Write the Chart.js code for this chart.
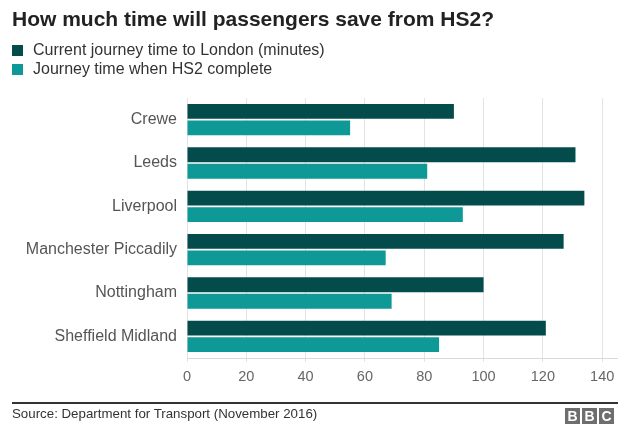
<!DOCTYPE html>
<html>
<head>
<meta charset="utf-8">
<script src="https://cdn.jsdelivr.net/npm/chart.js@4"></script>
<style>
  html, body { margin: 0; padding: 0; background: #fff; }
  body { width: 640px; height: 440px; position: relative; overflow: hidden;
         font-family: "Liberation Sans", Arial, sans-serif; }
  #wrap { position: absolute; left: 0; top: 0; width: 640px; height: 440px; }
  .title { position: absolute; left: 12px; top: 7px; font-size: 21px; font-weight: bold; color: #222; }
  .leg { position: absolute; left: 12px; font-size: 16px; color: #333; line-height: 18px; }
  .leg span { display: inline-block; width: 11px; height: 11px; margin-right: 10px; vertical-align: -1px; }
  .rule { position: absolute; left: 12px; top: 402px; width: 606px; height: 2px; background: #333; }
  .source { position: absolute; left: 12px; top: 406px; font-size: 13.3px; color: #333; }
  .bbc { position: absolute; top: 407px; left: 565px; }
  .bbc b { display: inline-block; width: 15px; height: 16px; margin-right: 2px; background: #6e6e6e;
           color: #fff; font-size: 14px; line-height: 16px; text-align: center; }
</style>
</head>
<body>
<div id="wrap"><canvas id="chart"></canvas></div>
<div class="title">How much time will passengers save from HS2?</div>
<div class="leg" id="leg1" style="top:41px"></div>
<div class="leg" id="leg2" style="top:60px"></div>
<div class="rule"></div>
<div class="source">Source: Department for Transport (November 2016)</div>
<div class="bbc"><b>B</b><b>B</b><b>C</b></div>
<script>
// 数据
const stations = ['Crewe', 'Leeds', 'Liverpool', 'Manchester Piccadily', 'Nottingham', 'Sheffield Midland'];
const currentTime = [90, 131, 134, 127, 100, 121];
const hs2Time = [55, 81, 93, 67, 69, 85];
const seriesNames = ['Current journey time to London (minutes)', 'Journey time when HS2 complete'];
const seriesColors = ['#044c4c', '#0e9996'];
const xTicks = [0, 20, 40, 60, 80, 100, 120, 140];

// 图例
[seriesNames[0], seriesNames[1]].forEach(function(name, i) {
  document.getElementById('leg' + (i + 1)).innerHTML =
    '<span style="background:' + seriesColors[i] + '"></span>' + name;
});

document.addEventListener('DOMContentLoaded', function() {
  const ctx = document.getElementById('chart');
  new Chart(ctx, {
    type: 'bar',
    data: {
      labels: stations,
      datasets: [
        { label: seriesNames[0], data: currentTime, backgroundColor: seriesColors[0],
          categoryPercentage: 0.76, barPercentage: 0.9 },
        { label: seriesNames[1], data: hs2Time, backgroundColor: seriesColors[1],
          categoryPercentage: 0.76, barPercentage: 0.9 }
      ]
    },
    options: {
      indexAxis: 'y',
      responsive: true,
      maintainAspectRatio: false,
      animation: false,
      layout: { padding: { top: 98, right: 23, bottom: 0, left: 0 } },
      plugins: { legend: { display: false }, tooltip: { enabled: false } },
      scales: {
        x: {
          min: 0,
          max: 145,
          afterBuildTicks: function(scale) {
            scale.ticks = xTicks.map(function(v) { return { value: v }; });
          },
          afterFit: function(scale) { scale.height = 82; },
          grid: { color: '#e3e3e3', tickLength: 4 },
          border: { color: '#dadada' },
          ticks: { color: '#666', padding: 6,
                   font: { family: 'Liberation Sans', size: 14.5 } }
        },
        y: {
          afterFit: function(scale) { scale.width = 187; },
          grid: { display: false, drawTicks: false },
          border: { display: false },
          ticks: { color: '#555', padding: 10,
                   font: { family: 'Liberation Sans', size: 16 } }
        }
      }
    }
  });
});
</script>
</body>
</html>
